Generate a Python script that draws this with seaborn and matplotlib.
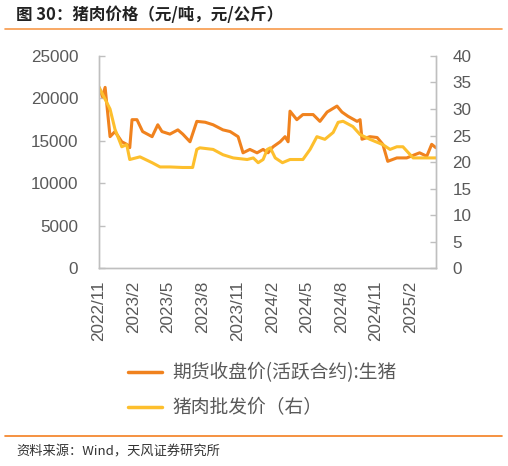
import pandas as pd
import matplotlib.pyplot as plt
import matplotlib.lines as mlines
import seaborn as sns

# 期货收盘价(活跃合约):生猪 (元/吨, 左轴)
fut_dates = ['2022-11-01', '2022-11-10', '2022-11-17', '2022-11-30', '2022-12-13', '2022-12-31',
             '2023-01-13', '2023-01-21', '2023-01-27', '2023-02-09', '2023-02-24', '2023-03-21',
             '2023-04-05', '2023-04-16', '2023-05-07', '2023-05-28', '2023-06-10', '2023-06-29',
             '2023-07-17', '2023-08-08', '2023-08-29', '2023-09-24', '2023-10-13', '2023-11-03',
             '2023-11-16', '2023-12-04', '2023-12-23', '2024-01-08', '2024-01-21', '2024-02-03',
             '2024-02-22', '2024-03-06', '2024-03-14', '2024-03-19', '2024-04-06', '2024-04-22',
             '2024-05-19', '2024-06-06', '2024-06-25', '2024-07-21', '2024-08-03', '2024-08-19',
             '2024-09-12', '2024-09-20', '2024-09-25', '2024-10-16', '2024-11-04', '2024-11-19',
             '2024-12-02', '2024-12-26', '2025-01-21', '2025-02-24', '2025-03-15', '2025-03-28',
             '2025-04-08']
fut_values = [21300, 20200, 21300, 15500, 16100, 14900,
              14600, 14200, 17500, 17500, 16100, 15500,
              16900, 16100, 15800, 16300, 15800, 14900,
              17300, 17200, 16900, 16300, 16100, 15500,
              13600, 14000, 13600, 14000, 13600, 14300,
              14900, 15500, 14900, 18500, 17500, 18100,
              18100, 17300, 18400, 19100, 18400, 17900,
              17300, 17500, 15200, 15500, 15400, 14600,
              12600, 13000, 13000, 13600, 13200, 14600,
              14200]

# 猪肉批发价 (元/公斤, 右轴)
pork_dates = ['2022-11-01', '2022-11-30', '2022-12-13', '2022-12-31', '2023-01-13', '2023-01-21',
              '2023-02-17', '2023-03-21', '2023-04-11', '2023-05-07', '2023-06-10', '2023-07-06',
              '2023-07-17', '2023-07-25', '2023-08-29', '2023-09-24', '2023-10-21', '2023-11-27',
              '2023-12-13', '2023-12-26', '2024-01-08', '2024-01-19', '2024-01-27', '2024-02-09',
              '2024-02-28', '2024-03-19', '2024-04-22', '2024-05-11', '2024-05-29', '2024-06-19',
              '2024-07-11', '2024-07-24', '2024-08-06', '2024-09-01', '2024-09-20', '2024-10-16',
              '2024-11-19', '2024-12-08', '2024-12-26', '2025-01-11', '2025-02-07', '2025-03-04',
              '2025-04-08']
pork_values = [34.1, 30.0, 26.2, 22.9, 23.3, 20.5,
               21.0, 19.9, 19.1, 19.1, 19.0, 19.0,
               22.4, 22.7, 22.4, 21.4, 20.8, 20.5,
               20.8, 19.9, 20.5, 22.4, 22.7, 20.8,
               19.9, 20.5, 20.5, 22.4, 24.8, 24.3,
               25.6, 27.5, 27.7, 26.7, 25.2, 24.3,
               23.3, 22.4, 22.9, 22.9, 20.8, 20.8,
               20.8]

x_ticks = ['2022-11-01', '2023-02-01', '2023-05-01', '2023-08-01', '2023-11-01',
           '2024-02-01', '2024-05-01', '2024-08-01', '2024-11-01', '2025-02-01']

fut = pd.DataFrame({'date': pd.to_datetime(fut_dates), 'value': fut_values})
pork = pd.DataFrame({'date': pd.to_datetime(pork_dates), 'value': pork_values})

sns.set_style('white')
plt.rcParams['font.family'] = ['Liberation Sans', 'Noto Sans CJK SC', 'DejaVu Sans']

c_fut = '#F0821E'
c_pork = '#FDBF2D'
grey = '#595959'
spine = '#BFBFBF'

fig = plt.figure(figsize=(5.08, 4.66), dpi=100)
ax = fig.add_axes([0.195, 0.424, 0.663, 0.456])
ax2 = ax.twinx()

sns.lineplot(data=fut, x='date', y='value', ax=ax, color=c_fut, linewidth=2.2)
sns.lineplot(data=pork, x='date', y='value', ax=ax2, color=c_pork, linewidth=2.2)

ax.set_xlim(pd.Timestamp('2022-11-01'), pd.Timestamp('2025-04-08'))
ax.set_ylim(0, 25000)
ax.set_yticks(range(0, 25001, 5000))
ax2.set_ylim(0, 40)
ax2.set_yticks(range(0, 41, 5))

ticks = pd.to_datetime(x_ticks)
ax.set_xticks(ticks)
ax.set_xticklabels([f'{d.year}/{d.month}' for d in ticks], rotation=90)

for a in (ax, ax2):
    a.set_xlabel('')
    a.set_ylabel('')
    for s in a.spines.values():
        s.set_color(spine)
        s.set_linewidth(1)
    a.spines['top'].set_visible(False)
    a.tick_params(labelsize=12.3, colors=grey, length=4, width=1)
    a.tick_params(axis='x', colors=spine, labelcolor=grey, direction='out', pad=5)
ax.tick_params(axis='y', direction='in', color=spine, labelcolor=grey, pad=15)
ax2.tick_params(axis='y', direction='in', color=spine, labelcolor=grey, pad=12)

handles = [mlines.Line2D([], [], color=c_fut, linewidth=2.5),
           mlines.Line2D([], [], color=c_pork, linewidth=2.5)]
fig.legend(handles, ['期货收盘价(活跃合约):生猪', '猪肉批发价（右）'],
           loc='upper left', bbox_to_anchor=(0.252, 0.222), frameon=False,
           labelcolor=grey, handlelength=1.8, handletextpad=0.55, labelspacing=0.75,
           borderpad=0, borderaxespad=0,
           prop={'family': ['Noto Sans CJK SC'], 'size': 13.5})

fig.text(0.032, 0.968, '图 30：猪肉价格（元/吨，元/公斤）', fontsize=11.9, fontweight='bold',
         color='#222222', va='center', family=['Noto Sans CJK SC', 'DejaVu Sans'])
fig.add_artist(mlines.Line2D([0.01, 0.988], [0.938, 0.938], color='#F79A4A', linewidth=1.2))
fig.add_artist(mlines.Line2D([0.01, 0.988], [0.064, 0.064], color='#F47F20', linewidth=1.2))
fig.text(0.032, 0.03, '资料来源：Wind，天风证券研究所', fontsize=9.5, color='#333333',
         va='center', family=['Noto Sans CJK SC', 'DejaVu Sans'])

fig.savefig('out.png', dpi=100)
